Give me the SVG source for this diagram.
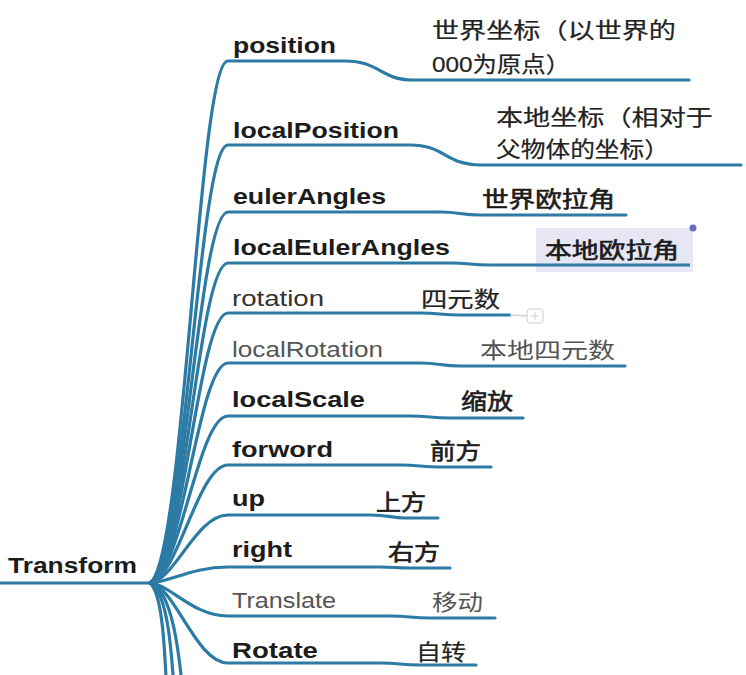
<svg xmlns="http://www.w3.org/2000/svg" width="746" height="675" viewBox="0 0 746 675">
<style>
.c{fill:none;stroke:#2c7ba5;stroke-width:3.2;stroke-linecap:round}
.lb{font-family:"Liberation Sans",Arial,sans-serif;font-size:22px;font-weight:bold;fill:#1c1c1c}
.lr{font-family:"Liberation Sans",Arial,sans-serif;font-size:22px;fill:#333}
.ll{font-family:"Liberation Sans",Arial,sans-serif;font-size:22px;fill:#555}
.zb{font-family:"Liberation Sans","Noto Sans CJK SC",sans-serif;font-size:22px;fill:#1c1c1c;stroke:#1c1c1c;stroke-width:0.6}
.zr{font-family:"Liberation Sans","Noto Sans CJK SC",sans-serif;font-size:22px;fill:#222;stroke:#222;stroke-width:0.2}
.zl{font-family:"Liberation Sans","Noto Sans CJK SC",sans-serif;font-size:22px;fill:#555}
</style>
<rect width="746" height="675" fill="#fff"/>
<g id="connectors">
<path class="c" d="M0,583 L150,583" stroke-width="4"/>
<path class="c" d="M150,583 C185,560 198,61 228,61 L345,61 C380,61 380,80 413,80 L689,80"/>
<path class="c" d="M150,583 C185,565 198,145 228,145 L410,145 C445,145 445,165 481,165 L741,165"/>
<path class="c" d="M150,583 C184,568 198,212 228,212 L440,212 C460,212 460,215 480,215 L626,215"/>
<path class="c" d="M150,583 C184,570 198,263 228,263 L450,263 C470,263 470,265 490,265 L690,265"/>
<path class="c" d="M150,583 C183,572 198,313 228,313 L420,313 C440,313 440,315 460,315 L510,315"/>
<path class="c" d="M150,583 C182,574 198,363 228,363 L420,363 C440,363 440,366 460,366 L625,366"/>
<path class="c" d="M150,583 C180,576 198,416 228,416 L410,416 C430,416 430,418 450,418 L523,418"/>
<path class="c" d="M150,583 C178,578 198,465 228,465 L400,465 C420,465 420,467 440,467 L491,467"/>
<path class="c" d="M150,583 C175,580 196,515 228,515 L370,515 C390,515 390,518 405,518 L438,518"/>
<path class="c" d="M150,583 C170,582 192,567 228,567 L380,567 C395,567 395,568 410,568 L450,568"/>
<path class="c" d="M150,583 C170,584 192,616 228,616 L390,616 C410,616 410,618 430,618 L495,618"/>
<path class="c" d="M150,583 C175,586 196,663 228,663 L380,663 C400,663 400,665 420,665 L476,665"/>
<path class="c" d="M150,583 C172,590 180,650 185,720"/>
<path class="c" d="M150,583 C168,592 172,650 176,720"/>
<path class="c" d="M150,583 C163,594 165,650 168,720"/>
<path d="M510,315 L527,316" stroke="#c9d6de" stroke-width="1.5" fill="none"/>
</g>
<g id="n-transform"><text class="lb" x="8" y="573" font-size="23" textLength="129" lengthAdjust="spacingAndGlyphs">Transform</text></g>
<g id="n-position"><text class="lb" x="233" y="53" textLength="103" lengthAdjust="spacingAndGlyphs">position</text></g>
<g id="n-position-d"><text class="zr" x="432" y="38" textLength="244" lengthAdjust="spacingAndGlyphs">世界坐标（以世界的</text><text class="zr" x="432" y="72" textLength="138" lengthAdjust="spacingAndGlyphs">000为原点）</text></g>
<g id="n-localPosition"><text class="lb" x="233" y="138" textLength="166" lengthAdjust="spacingAndGlyphs">localPosition</text></g>
<g id="n-localPosition-d"><text class="zr" x="496" y="125" textLength="217" lengthAdjust="spacingAndGlyphs">本地坐标（相对于</text><text class="zr" x="496" y="157" textLength="173" lengthAdjust="spacingAndGlyphs">父物体的坐标）</text></g>
<g id="n-eulerAngles"><text class="lb" x="233" y="204" textLength="153" lengthAdjust="spacingAndGlyphs">eulerAngles</text></g>
<g id="n-eulerAngles-d"><text class="zb" x="482" y="207" textLength="133" lengthAdjust="spacingAndGlyphs">世界欧拉角</text></g>
<g id="n-localEulerAngles"><text class="lb" x="233" y="255" textLength="217" lengthAdjust="spacingAndGlyphs">localEulerAngles</text></g>
<g id="n-localEulerAngles-d"><rect x="536" y="228" width="157" height="44" fill="#e6e6f4"/><path d="M536,265 L690,265" stroke="#2c7ba5" stroke-width="3.2"/><circle cx="693" cy="228" r="3.5" fill="#6b6bbf"/><text class="zb" x="545" y="258" textLength="134" lengthAdjust="spacingAndGlyphs">本地欧拉角</text></g>
<g id="n-rotation"><text class="lr" x="232" y="306" textLength="92" lengthAdjust="spacingAndGlyphs">rotation</text></g>
<g id="n-rotation-d"><text class="zr" x="421" y="307" textLength="79" lengthAdjust="spacingAndGlyphs">四元数</text><rect x="527" y="309" width="16" height="14" rx="3" fill="#fff" stroke="#cfcfcf" stroke-width="1"/><path d="M535,312 v8 M531,316 h8" stroke="#cfcfcf" stroke-width="1"/></g>
<g id="n-localRotation"><text class="ll" x="232" y="357" textLength="151" lengthAdjust="spacingAndGlyphs">localRotation</text></g>
<g id="n-localRotation-d"><text class="zl" x="480" y="358" textLength="135" lengthAdjust="spacingAndGlyphs">本地四元数</text></g>
<g id="n-localScale"><text class="lb" x="232" y="407" textLength="133" lengthAdjust="spacingAndGlyphs">localScale</text></g>
<g id="n-localScale-d"><text class="zb" x="461" y="409" textLength="52" lengthAdjust="spacingAndGlyphs">缩放</text></g>
<g id="n-forword"><text class="lb" x="232" y="457" textLength="101" lengthAdjust="spacingAndGlyphs">forword</text></g>
<g id="n-forword-d"><text class="zb" x="430" y="459" textLength="51" lengthAdjust="spacingAndGlyphs">前方</text></g>
<g id="n-up"><text class="lb" x="232" y="506" textLength="33" lengthAdjust="spacingAndGlyphs">up</text></g>
<g id="n-up-d"><text class="zb" x="376" y="510" textLength="50" lengthAdjust="spacingAndGlyphs">上方</text></g>
<g id="n-right"><text class="lb" x="232" y="557" textLength="60" lengthAdjust="spacingAndGlyphs">right</text></g>
<g id="n-right-d"><text class="zb" x="388" y="560" textLength="52" lengthAdjust="spacingAndGlyphs">右方</text></g>
<g id="n-Translate"><text class="ll" x="232" y="608" textLength="104" lengthAdjust="spacingAndGlyphs">Translate</text></g>
<g id="n-Translate-d"><text class="zl" x="432" y="610" textLength="51" lengthAdjust="spacingAndGlyphs">移动</text></g>
<g id="n-Rotate"><text class="lb" x="232" y="658" textLength="86" lengthAdjust="spacingAndGlyphs">Rotate</text></g>
<g id="n-Rotate-d"><text class="zr" x="416" y="660" textLength="50" lengthAdjust="spacingAndGlyphs">自转</text></g>
</svg>
